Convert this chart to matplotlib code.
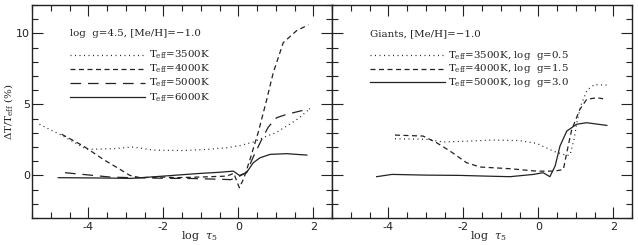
import matplotlib
matplotlib.use("Agg")
import matplotlib.pyplot as plt
from matplotlib.ticker import MultipleLocator

# ---- data ----
# Left panel: dwarfs, log g = 4.5, [Me/H] = -1.0
d3500_x = [-5.3, -4.67, -4.04, -3.33, -2.8, -2.27, -1.5, -0.84, -0.3, 0.05, 0.4, 0.76, 1.0, 1.29, 1.6, 1.91]
d3500_y = [3.6, 2.77, 1.83, 1.88, 2.0, 1.78, 1.75, 1.83, 1.95, 2.1, 2.35, 2.77, 3.0, 3.47, 4.0, 4.7]

d4000_x = [-4.71, -4.13, -3.6, -3.15, -2.89, -2.62, -2.0, -1.64, -0.84, -0.3, -0.12, 0.03, 0.15, 0.31, 0.53, 0.76, 0.93, 1.2, 1.56, 1.87]
d4000_y = [2.9, 2.07, 1.13, 0.42, 0.0, -0.16, -0.12, -0.16, -0.1, -0.05, 0.15, -0.87, -0.2, 1.1, 3.0, 5.35, 7.2, 9.35, 10.2, 10.6]

d5000_x = [-4.62, -3.95, -3.4, -2.85, -2.0, -1.2, -0.5, -0.2, 0.0, 0.22, 0.4, 0.62, 0.8, 1.02, 1.29, 1.6, 1.91]
d5000_y = [0.19, 0.02, -0.12, -0.16, -0.2, -0.22, -0.27, -0.3, -0.1, 0.2, 1.3, 2.5, 3.4, 4.06, 4.3, 4.5, 4.7]

d6000_x = [-4.8, -3.8, -2.85, -2.0, -1.02, -0.5, -0.13, 0.03, 0.22, 0.4, 0.58, 0.85, 1.29, 1.83]
d6000_y = [-0.16, -0.18, -0.21, -0.05, 0.14, 0.22, 0.3, 0.0, 0.19, 0.89, 1.24, 1.48, 1.53, 1.43]

# Right panel: giants, [Me/H] = -1.0
g3500_x = [-3.82, -2.98, -2.53, -2.0, -1.2, -0.5, -0.04, 0.4, 0.76, 0.85, 0.95, 1.05, 1.15, 1.3, 1.5, 1.87]
g3500_y = [2.58, 2.54, 2.35, 2.4, 2.49, 2.45, 2.25, 1.71, 1.4, 1.45, 2.5, 4.0, 5.0, 6.0, 6.4, 6.35]

g4000_x = [-3.82, -3.07, -2.71, -2.35, -1.91, -1.55, -0.75, -0.04, 0.44, 0.67, 0.76, 0.89, 1.11, 1.29, 1.56, 1.73]
g4000_y = [2.84, 2.77, 2.3, 1.71, 0.89, 0.59, 0.47, 0.3, 0.3, 0.42, 1.6, 3.2, 4.65, 5.35, 5.47, 5.4]

g5000_x = [-4.31, -3.9, -3.0, -2.09, -1.4, -0.75, -0.13, 0.13, 0.31, 0.45, 0.58, 0.76, 1.02, 1.29, 1.83]
g5000_y = [-0.09, 0.07, 0.02, 0.0, -0.05, -0.09, 0.07, 0.19, -0.09, 0.66, 2.07, 3.12, 3.6, 3.71, 3.52]

left_labels = [r"T$_{\rm eff}$=3500K", r"T$_{\rm eff}$=4000K", r"T$_{\rm eff}$=5000K", r"T$_{\rm eff}$=6000K"]
right_labels = [r"T$_{\rm eff}$=3500K, log  g=0.5", r"T$_{\rm eff}$=4000K, log  g=1.5", r"T$_{\rm eff}$=5000K, log  g=3.0"]
left_title = "log  g=4.5, [Me/H]=\u22121.0"
right_title = "Giants, [Me/H]=\u22121.0"

# ---- styles ----
plt.rcParams['mathtext.fontset'] = 'dejavuserif'
plt.rcParams['axes.unicode_minus'] = False
SERIF = 'DejaVu Serif'
col = '#222222'
lw = 0.9
styles = [(0, (0.8, 2.8)), (0, (4.0, 2.8)), (0, (8.5, 5.5)), '-']
FS = 7.4

fig = plt.figure(figsize=(6.38, 2.45), dpi=100)
axL = fig.add_axes([32/638, 27/245, 300/638, 213/245])
axR = fig.add_axes([332/638, 27/245, 300/638, 213/245])

left_series = [(d3500_x, d3500_y), (d4000_x, d4000_y), (d5000_x, d5000_y), (d6000_x, d6000_y)]
right_series = [(g3500_x, g3500_y), (g4000_x, g4000_y), (g5000_x, g5000_y)]
right_styles = [styles[0], styles[1], '-']

for (x, y), ls in zip(left_series, styles):
    axL.plot(x, y, color=col, lw=lw, linestyle=ls)
for (x, y), ls in zip(right_series, right_styles):
    axR.plot(x, y, color=col, lw=lw, linestyle=ls)

# in-panel legends (drawn as lines in data coords)
leg_y_left = [8.5, 7.5, 6.5, 5.5]
for yy, ls, lab in zip(leg_y_left, styles, left_labels):
    axL.plot([-4.49, -2.5], [yy, yy], color=col, lw=lw, linestyle=ls)
    axL.text(-2.38, yy, lab, fontsize=FS, family=SERIF, va='center', ha='left', color=col)
axL.text(-4.49, 10.0, left_title, fontsize=FS, family=SERIF, va='center', ha='left', color=col)

leg_y_right = [8.45, 7.5, 6.55]
for yy, ls, lab in zip(leg_y_right, right_styles, right_labels):
    axR.plot([-4.49, -2.5], [yy, yy], color=col, lw=lw, linestyle=ls)
    axR.text(-2.42, yy, lab, fontsize=FS, family=SERIF, va='center', ha='left', color=col)
axR.text(-4.49, 10.0, right_title, fontsize=FS, family=SERIF, va='center', ha='left', color=col)

for ax in (axL, axR):
    ax.set_xlim(-5.5, 2.5)
    ax.set_ylim(-3, 12)
    ax.xaxis.set_major_locator(MultipleLocator(2))
    ax.xaxis.set_minor_locator(MultipleLocator(0.5))
    ax.yaxis.set_major_locator(MultipleLocator(5))
    ax.yaxis.set_minor_locator(MultipleLocator(1))
    ax.tick_params(which='both', direction='in', top=True, right=True, colors=col,
                   labelsize=8, width=0.8)
    ax.tick_params(which='major', length=8)
    ax.tick_params(which='minor', length=4)
    for s in ax.spines.values():
        s.set_linewidth(1.0)
        s.set_color(col)
    ax.tick_params(axis='x', pad=3)

axR.tick_params(labelleft=False)
axL.tick_params(axis='y', pad=1.5)

axL.set_ylabel(r"$\Delta$T/T$_{\rm eff}$ (%)", fontsize=FS, family=SERIF, color=col)
axL.yaxis.set_label_coords(-0.058, 0.5)
axL.set_xlabel(r"log  $\tau_5$", fontsize=8, family=SERIF, color=col)
axR.set_xlabel(r"log  $\tau_5$", fontsize=8, family=SERIF, color=col)
axL.xaxis.set_label_coords(0.557, -0.05)
axR.xaxis.set_label_coords(0.523, -0.05)

fig.savefig("out.png", dpi=100)
